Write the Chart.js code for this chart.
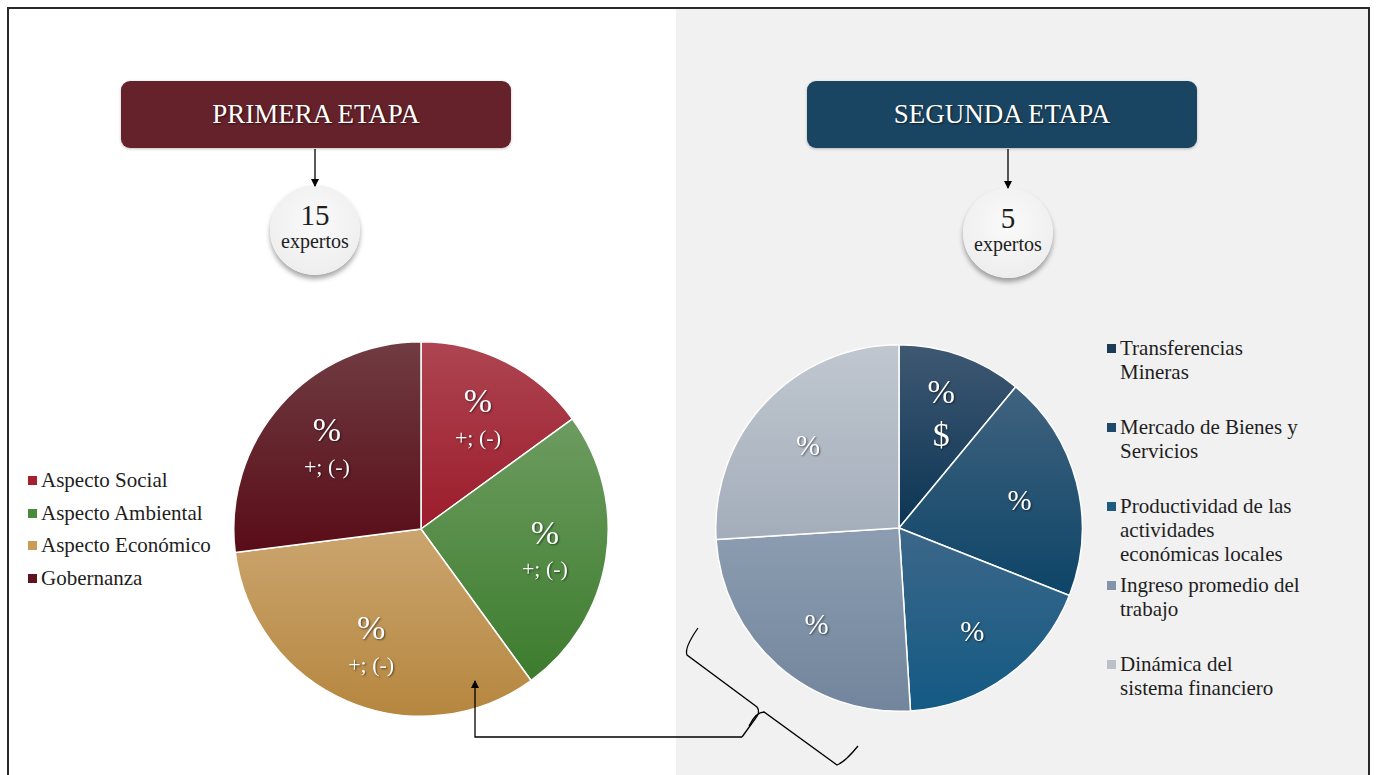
<!DOCTYPE html>
<html>
<head>
<meta charset="utf-8">
<title>Etapas</title>
<script src="https://cdn.jsdelivr.net/npm/chart.js@4.4.0/dist/chart.umd.min.js"></script>
<style>
  body{margin:0;width:1376px;height:775px;overflow:hidden;background:#fff;position:relative;
    font-family:"Liberation Serif","Times New Roman",serif;color:#1e1e1e}
  .frame{position:absolute;left:7px;top:7px;width:1363px;height:800px;border:2px solid #2a2a2a;border-bottom:none;box-sizing:border-box}
  .panel{position:absolute;left:676px;top:9px;width:692px;height:766px;background:#f1f1f1}
  .stage{position:absolute;top:81px;width:390px;height:67px;border-radius:9px;color:#fff;font-size:27px;
    display:flex;align-items:center;justify-content:center;text-shadow:1px 1px 2px rgba(0,0,0,.6);
    box-shadow:0 1px 3px rgba(0,0,0,.25)}
  .bubble{position:absolute;width:90px;height:90px;border-radius:50%;
    background:radial-gradient(circle at 50% 40%,#fafafa 0%,#efefef 70%,#e4e4e4 100%);
    box-shadow:0 4px 5px rgba(0,0,0,.35);text-align:center;box-sizing:border-box;padding-top:15px}
  .bubble .n{font-size:29px;line-height:30px}
  .bubble .t{font-size:20px;line-height:22px}
  canvas{position:absolute}
  .legend{position:absolute;font-size:21px}
  .legend .row{position:relative;padding-left:13px}
  .legend .sw{position:absolute;left:0;width:9px;height:9px}
  svg{position:absolute;left:0;top:0}
</style>
</head>
<body>
<div class="frame"></div>
<div class="panel"></div>

<div class="stage" id="stage1" style="left:121px;background:#66222a">PRIMERA ETAPA</div>
<div class="stage" id="stage2" style="left:807px;background:#1a4562">SEGUNDA ETAPA</div>
<div class="bubble" id="bubble1" style="left:270px;top:185px"></div>
<div class="bubble" id="bubble2" style="left:963px;top:188px"></div>

<canvas id="pie1" width="376" height="376" style="left:233px;top:341px"></canvas>
<canvas id="pie2" width="368" height="368" style="left:715px;top:344px"></canvas>

<div class="legend" id="legend1" style="left:28px;top:464px"></div>
<div class="legend" id="legend2" style="left:1107px;top:336px"></div>

<svg width="1376" height="775">
  <defs>
    <marker id="head" markerWidth="8" markerHeight="8" refX="7" refY="4" orient="auto" markerUnits="userSpaceOnUse">
      <path d="M0,0 L8,4 L0,8 z" fill="#000"/>
    </marker>
  </defs>
  <g stroke="#000" stroke-width="1.3" fill="none">
    <line x1="315" y1="149" x2="315" y2="186" marker-end="url(#head)"/>
    <line x1="1008" y1="149" x2="1008" y2="188" marker-end="url(#head)"/>
    <polyline points="742,737 475,737 475,681" marker-end="url(#head)"/>
    <!-- brace -->
    <path d="M698,628 Q684,648 687,655 L757,707 Q761,712 755,719 L742,737"/>
    <path d="M749,726 Q756,712 764,712 L837,765 Q845,762 858,746"/>
  </g>
</svg>

<script>
// Primera etapa
const etapa1Labels = ['Aspecto Social', 'Aspecto Ambiental', 'Aspecto Económico', 'Gobernanza'];
const etapa1Values = [15, 25, 33, 27];
const etapa1Top = ['%', '%', '%', '%'];
const etapa1Bottom = ['+; (-)', '+; (-)', '+; (-)', '+; (-)'];

// Segunda etapa
const etapa2Labels = [
  ['Transferencias', 'Mineras'],
  ['Mercado de Bienes y', 'Servicios'],
  ['Productividad de las', 'actividades', 'económicas locales'],
  ['Ingreso promedio del', 'trabajo'],
  ['Dinámica del', 'sistema financiero']
];
const etapa2Values = [11, 20, 18, 25, 26];
const etapa2Top = ['%', '%', '%', '%', '%'];
const etapa2Bottom = ['$', '', '', '', ''];

const etapas = ['PRIMERA ETAPA', 'SEGUNDA ETAPA'];
const expertos = [15, 5];

// colours: [top, bottom] of each slice's vertical gradient, plus legend swatch
const etapa1Shades = [['#ae4552', '#9c1c2b'], ['#6d9c60', '#3c7c2d'], ['#cba56f', '#b5863e'], ['#703c42', '#590c17']];
const etapa1Swatch = ['#a8202f', '#4a8a3b', '#cb9c56', '#5e1420'];
const etapa2Shades = [['#3f5872', '#0b3555'], ['#40637f', '#0d4467'], ['#3c6789', '#135a84'], ['#8c9db1', '#72859c'], ['#c0c7cf', '#a3adba']];
const etapa2Swatch = ['#1c3b56', '#1e4968', '#1f5a80', '#8493a7', '#b9c1cb'];

document.getElementById('stage1').textContent = etapas[0];
document.getElementById('stage2').textContent = etapas[1];
[1, 2].forEach(k => {
  document.getElementById('bubble' + k).innerHTML =
    '<div class="n">' + expertos[k - 1] + '</div><div class="t">expertos</div>';
});

function buildLegend(id, labels, colors, gaps) {
  const el = document.getElementById(id);
  labels.forEach((lab, i) => {
    const lines = Array.isArray(lab) ? lab : [lab];
    const row = document.createElement('div');
    row.className = 'row';
    row.style.lineHeight = gaps.line + 'px';
    row.style.marginBottom = (gaps.after[i] || 0) + 'px';
    row.innerHTML = '<span class="sw" style="top:' + gaps.sw + 'px;background:' + colors[i] + '"></span>' + lines.join('<br>');
    el.appendChild(row);
  });
}
buildLegend('legend1', etapa1Labels, etapa1Swatch, {line: 32.5, sw: 12, after: []});
buildLegend('legend2', etapa2Labels, etapa2Swatch, {line: 24, sw: 8, after: [31, 31, 7, 31, 0]});

// vertical gradient spanning each slice's own height
function sliceFill(values, shades) {
  return function (c) {
    const i = c.dataIndex;
    if (i === undefined) return '#888';
    const area = c.chart.chartArea;
    if (!area) return shades[i][1];
    const cx = (area.left + area.right) / 2, cy = (area.top + area.bottom) / 2;
    const r = Math.min(area.width, area.height) / 2;
    const total = values.reduce((a, b) => a + b, 0);
    let a0 = -Math.PI / 2;
    for (let k = 0; k < i; k++) a0 += values[k] / total * Math.PI * 2;
    const a1 = a0 + values[i] / total * Math.PI * 2;
    let y0 = cy, y1 = cy;
    [a0, a1].forEach(a => {
      const y = cy + r * Math.sin(a);
      y0 = Math.min(y0, y); y1 = Math.max(y1, y);
    });
    [-Math.PI / 2, Math.PI / 2, Math.PI * 1.5].forEach(a => {
      if (a >= a0 && a <= a1) {
        const y = cy + r * Math.sin(a);
        y0 = Math.min(y0, y); y1 = Math.max(y1, y);
      }
    });
    const g = c.chart.ctx.createLinearGradient(0, y0, 0, y1);
    g.addColorStop(0, shades[i][0]);
    g.addColorStop(1, shades[i][1]);
    return g;
  };
}

const sliceText = {
  id: 'sliceText',
  afterDatasetsDraw(chart, args, o) {
    const ctx = chart.ctx;
    const serif = '"Liberation Serif","Times New Roman",serif';
    chart.getDatasetMeta(0).data.forEach((arc, i) => {
      const p = arc.getProps(['x', 'y', 'startAngle', 'endAngle', 'outerRadius'], true);
      const mid = (p.startAngle + p.endAngle) / 2;
      const d = p.outerRadius * o.dist;
      const x = p.x + Math.cos(mid) * d, y = p.y + Math.sin(mid) * d + o.shift;
      const two = o.bottom[i] !== '';
      ctx.save();
      ctx.fillStyle = '#fff';
      ctx.textAlign = 'center';
      ctx.textBaseline = 'middle';
      ctx.shadowColor = 'rgba(0,0,0,.55)';
      ctx.shadowOffsetX = 1;
      ctx.shadowOffsetY = 1;
      ctx.shadowBlur = 2;
      ctx.font = (two ? o.topSize : o.soloSize) + 'px ' + serif;
      ctx.fillText(o.top[i], x, two ? y - o.gap : y);
      if (two) {
        ctx.font = o.bottomSize + 'px ' + serif;
        ctx.fillText(o.bottom[i], x, y + o.gap);
      }
      ctx.restore();
    });
  }
};

function pie(id, values, labels, shades, text) {
  return new Chart(document.getElementById(id), {
    type: 'pie',
    data: {
      labels: labels.map(l => Array.isArray(l) ? l.join(' ') : l),
      datasets: [{
        data: values,
        backgroundColor: sliceFill(values, shades),
        borderColor: '#fff',
        borderWidth: 1.5
      }]
    },
    options: {
      responsive: false,
      animation: false,
      layout: {padding: 0},
      plugins: {legend: {display: false}, tooltip: {enabled: false}, sliceText: text}
    },
    plugins: [sliceText]
  });
}

pie('pie1', etapa1Values, etapa1Labels, etapa1Shades,
  {top: etapa1Top, bottom: etapa1Bottom, dist: 0.67, gap: 18, shift: 4, topSize: 34, soloSize: 34, bottomSize: 22});
pie('pie2', etapa2Values, etapa2Labels, etapa2Shades,
  {top: etapa2Top, bottom: etapa2Bottom, dist: 0.68, gap: 21, shift: 5, topSize: 33, soloSize: 29, bottomSize: 34});
</script>
</body>
</html>
